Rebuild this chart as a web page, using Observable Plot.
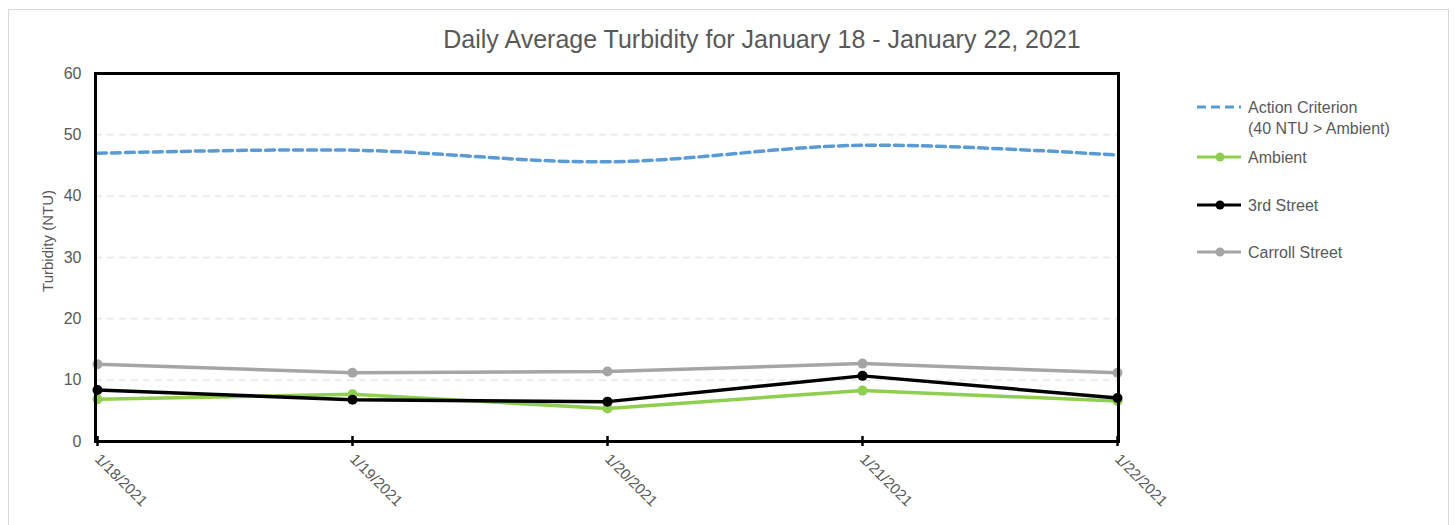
<!DOCTYPE html>
<html><head><meta charset="utf-8">
<script src="https://cdn.jsdelivr.net/npm/d3@7"></script>
<script src="https://cdn.jsdelivr.net/npm/@observablehq/plot@0.6"></script>
<style>
body{margin:0;background:#fff;font-family:"Liberation Sans",Arial,sans-serif;}
#wrap{position:relative;width:1455px;height:525px;overflow:hidden;}
#border{position:absolute;left:8px;top:9px;width:1441px;height:600px;border:1px solid #d9d9d9;box-sizing:border-box;}
#title{position:absolute;left:762px;top:25px;transform:translateX(-50%);white-space:nowrap;font-size:25px;color:#595959;}
#ylabel{position:absolute;left:47px;top:241px;transform:translate(-50%,-50%) rotate(-90deg);white-space:nowrap;font-size:15px;color:#595959;}
#chart{position:absolute;left:0;top:0;}
#legend{position:absolute;left:1195px;top:0;font-size:16px;color:#595959;}
.item{position:absolute;left:0;white-space:nowrap;}
.item svg{position:absolute;left:0;top:0;}
.item span{position:absolute;left:53px;top:-10px;line-height:21px;}
</style></head>
<body>
<div id="wrap">
  <div id="border"></div>
  <div id="chart"></div>
  <div id="title">Daily Average Turbidity for January 18 - January 22, 2021</div>
  <div id="ylabel">Turbidity (NTU)</div>
  <div id="legend"></div>
</div>
<script>
const dates = ["1/18/2021","1/19/2021","1/20/2021","1/21/2021","1/22/2021"];
const criterion = [47.0, 47.5, 45.6, 48.3, 46.7];
const ambient = [6.9, 7.7, 5.4, 8.3, 6.6];
const thirdStreet = [8.4, 6.8, 6.5, 10.7, 7.1];
const carrollStreet = [12.6, 11.2, 11.4, 12.7, 11.2];
const yTicks = [0, 10, 20, 30, 40, 50, 60];
const seriesNames = ["Ambient", "3rd Street", "Carroll Street"];
const seriesColors = ["#8fcf50", "#000000", "#a5a5a5"];
const criterionName = "Action Criterion";
const criterionNote = "(40 NTU > Ambient)";
const criterionColor = "#5b9bd5";

const critRows = dates.map((d, i) => ({date: d, value: criterion[i]}));
const seriesValues = [ambient, thirdStreet, carrollStreet];
const drawOrder = [2, 0, 1];
const rows = drawOrder.flatMap(s => dates.map((d, i) => ({series: seriesNames[s], date: d, value: seriesValues[s][i]})));

const chart = Plot.plot({
  width: 1455, height: 525,
  marginLeft: 95, marginRight: 337, marginTop: 73, marginBottom: 84,
  style: {fontFamily: '"Liberation Sans", Arial, sans-serif', fontSize: "14px", color: "#595959", background: "transparent", overflow: "visible"},
  x: {type: "point", domain: dates, padding: 0, label: null},
  y: {domain: [0, 60], label: null},
  color: {domain: seriesNames, range: seriesColors},
  marks: [
    Plot.gridY(yTicks.filter(v => v > 0 && v < 60), {stroke: "#ebebeb", strokeOpacity: 1, strokeWidth: 2, strokeDasharray: "7,5"}),
    Plot.axisY(yTicks, {tickSize: 0, tickPadding: 14, fontSize: 16, fill: "#595959", label: null}),
    Plot.axisX({tickSize: 10, dy: -5, strokeWidth: 2.5, stroke: "black", tickFormat: () => ""}),
    Plot.axisX({tickSize: 0, tickPadding: 15, tickRotate: 45, fontSize: 15, fill: "#595959", label: null}),
    Plot.line(critRows, {x: "date", y: "value", stroke: criterionColor, strokeWidth: 3.5, strokeDasharray: "9,5", curve: "catmull-rom"}),
    Plot.line(rows, {x: "date", y: "value", z: "series", stroke: "series", strokeWidth: 3.5}),
    Plot.dot(rows, {x: "date", y: "value", fill: "series", r: 5}),
    Plot.frame({stroke: "black", strokeWidth: 3})
  ]
});
document.getElementById("chart").appendChild(chart);

// Legend
const legend = d3.select("#legend");
const items = [
  {name: criterionName, note: criterionNote, color: criterionColor, dash: true, y: 107},
  {name: seriesNames[0], color: seriesColors[0], y: 157},
  {name: seriesNames[1], color: seriesColors[1], y: 205},
  {name: seriesNames[2], color: seriesColors[2], y: 252}
];
items.forEach(it => {
  const div = legend.append("div").attr("class", "item").style("top", it.y + "px");
  const svg = div.append("svg").attr("width", 50).attr("height", 12).style("top", "-6px").style("overflow", "visible");
  svg.append("line").attr("x1", 2).attr("x2", 46).attr("y1", 6).attr("y2", 6)
    .attr("stroke", it.color).attr("stroke-width", 3)
    .attr("stroke-dasharray", it.dash ? "9,5" : null);
  if (!it.dash) svg.append("circle").attr("cx", 25).attr("cy", 6).attr("r", 4.5).attr("fill", it.color);
  div.append("span").html(it.note ? it.name + "<br>" + it.note : it.name);
});
</script>
</body></html>
